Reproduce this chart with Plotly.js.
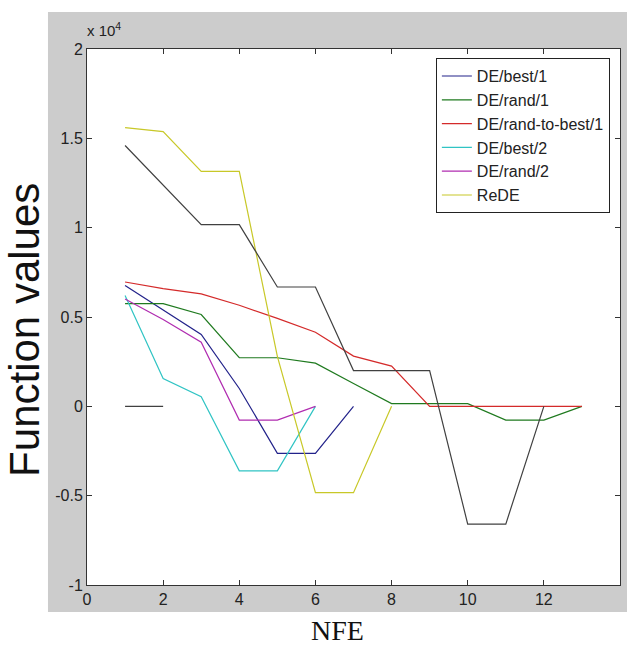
<!DOCTYPE html>
<html>
<head>
<meta charset="utf-8">
<script src="https://cdn.plot.ly/plotly-3.0.1.min.js"></script>
<style>html,body{margin:0;padding:0;background:#fff;}#chart{width:627px;height:651px;}</style>
</head>
<body>
<div id="chart"></div>
<script>
// NFE (x) values per series
var xBest1 = [1, 2, 3, 4, 5, 6, 7];
var yBest1 = [6760, 5400, 4020, 1000, -2630, -2630, 0];

var xRand1 = [1, 2, 3, 4, 5, 6, 7, 8, 9, 10, 11, 12, 13];
var yRand1 = [5750, 5750, 5140, 2720, 2720, 2420, 1280, 150, 150, 150, -770, -770, 0];

var xRandToBest1 = [1, 2, 3, 4, 5, 6, 7, 8, 9, 10, 11, 12, 13];
var yRandToBest1 = [6960, 6590, 6290, 5660, 4920, 4150, 2810, 2250, 0, 0, 0, 0, 0];

var xBest2 = [1, 2, 3, 4, 5, 6];
var yBest2 = [6200, 1560, 540, -3610, -3610, 0];

var xRand2 = [1, 2, 3, 4, 5, 6];
var yRand2 = [6010, 4860, 3590, -770, -770, 0];

var xReDE = [1, 2, 3, 4, 5, 6, 7, 8];
var yReDE = [15600, 15380, 13150, 13150, 2800, -4830, -4830, 0];

var xBlack = [1, 2, 3, 4, 5, 6, 7, 8, 9, 10, 11, 12];
var yBlack = [14600, 12400, 10170, 10170, 6680, 6680, 2000, 2000, 2000, -6590, -6590, 0];

var xBlack2 = [1, 2];
var yBlack2 = [0, 0];

var seriesNames = ['DE/best/1', 'DE/rand/1', 'DE/rand-to-best/1', 'DE/best/2', 'DE/rand/2', 'ReDE'];
var seriesColors = ['#22228a', '#1f7a1f', '#d42a2a', '#30c4c4', '#b02cb0', '#c8c828', '#404040'];

var xTickVals = [0, 2, 4, 6, 8, 10, 12, 14];
var yTickVals = [-10000, -5000, 0, 5000, 10000, 15000, 20000];
var yTickText = ['-1', '-0.5', '0', '0.5', '1', '1.5', '2'];

var xs = [xBest1, xRand1, xRandToBest1, xBest2, xRand2, xReDE];
var ys = [yBest1, yRand1, yRandToBest1, yBest2, yRand2, yReDE];

var traces = [];
for (var i = 0; i < xs.length; i++) {
  traces.push({
    x: xs[i], y: ys[i], type: 'scatter', mode: 'lines', name: seriesNames[i],
    line: {color: seriesColors[i], width: 1.2}
  });
}
traces.push({x: xBlack, y: yBlack, type: 'scatter', mode: 'lines', showlegend: false,
  line: {color: seriesColors[6], width: 1.2}, hoverinfo: 'skip'});
traces.push({x: xBlack2, y: yBlack2, type: 'scatter', mode: 'lines', showlegend: false,
  line: {color: seriesColors[6], width: 1.2}, hoverinfo: 'skip'});

var axisFont = {family: 'Liberation Sans, Arial, sans-serif', size: 16, color: '#222'};

var layout = {
  width: 627, height: 651,
  margin: {l: 87, r: 7, t: 49, b: 66, pad: 0},
  paper_bgcolor: '#ffffff',
  plot_bgcolor: '#ffffff',
  showlegend: true,
  xaxis: {
    range: [0, 14], tickvals: xTickVals, ticks: 'inside', ticklen: 5, tickcolor: '#333',
    showline: true, linecolor: '#333', linewidth: 1, mirror: 'ticks',
    showgrid: false, zeroline: false, tickfont: axisFont, fixedrange: true
  },
  yaxis: {
    range: [-10000, 20000], tickvals: yTickVals, ticktext: yTickText,
    ticks: 'inside', ticklen: 5, tickcolor: '#333',
    showline: true, linecolor: '#333', linewidth: 1, mirror: 'ticks',
    showgrid: false, zeroline: false, tickfont: axisFont, fixedrange: true
  },
  legend: {
    x: 0.981, y: 0.983, xanchor: 'right', yanchor: 'top',
    bgcolor: '#ffffff', bordercolor: '#222', borderwidth: 1,
    font: {family: 'Liberation Sans, Arial, sans-serif', size: 16, color: '#222'},
    tracegroupgap: 0, entrywidth: 160, entrywidthmode: 'pixels'
  },
  shapes: [{
    type: 'rect', xref: 'paper', yref: 'paper', layer: 'below',
    x0: -0.0732, x1: 1.02, y0: -0.0504, y1: 1.069,
    fillcolor: '#cccccc', line: {width: 0}
  }, {
    type: 'rect', xref: 'paper', yref: 'paper', layer: 'below',
    x0: 0, x1: 1, y0: 0, y1: 1,
    fillcolor: '#ffffff', line: {width: 0}
  }],
  annotations: [
    {xref: 'paper', yref: 'paper', x: -0.004, y: 1.036, xanchor: 'left', yanchor: 'middle',
     text: 'x 10<sup>4</sup>', showarrow: false,
     font: {family: 'Liberation Sans, Arial, sans-serif', size: 15, color: '#222'}},
    {xref: 'paper', yref: 'paper', x: -0.1163, y: 0.476, xanchor: 'center', yanchor: 'middle',
     text: 'Function values', textangle: -90, showarrow: false,
     font: {family: 'Liberation Sans, Arial, sans-serif', size: 42, color: '#111'}},
    {xref: 'paper', yref: 'paper', x: 0.47, y: -0.084, xanchor: 'center', yanchor: 'middle',
     text: 'NFE', showarrow: false,
     font: {family: 'Liberation Serif, Times New Roman, serif', size: 28, color: '#111'}}
  ]
};

Plotly.newPlot('chart', traces, layout, {displayModeBar: false, staticPlot: true});
</script>
</body>
</html>
